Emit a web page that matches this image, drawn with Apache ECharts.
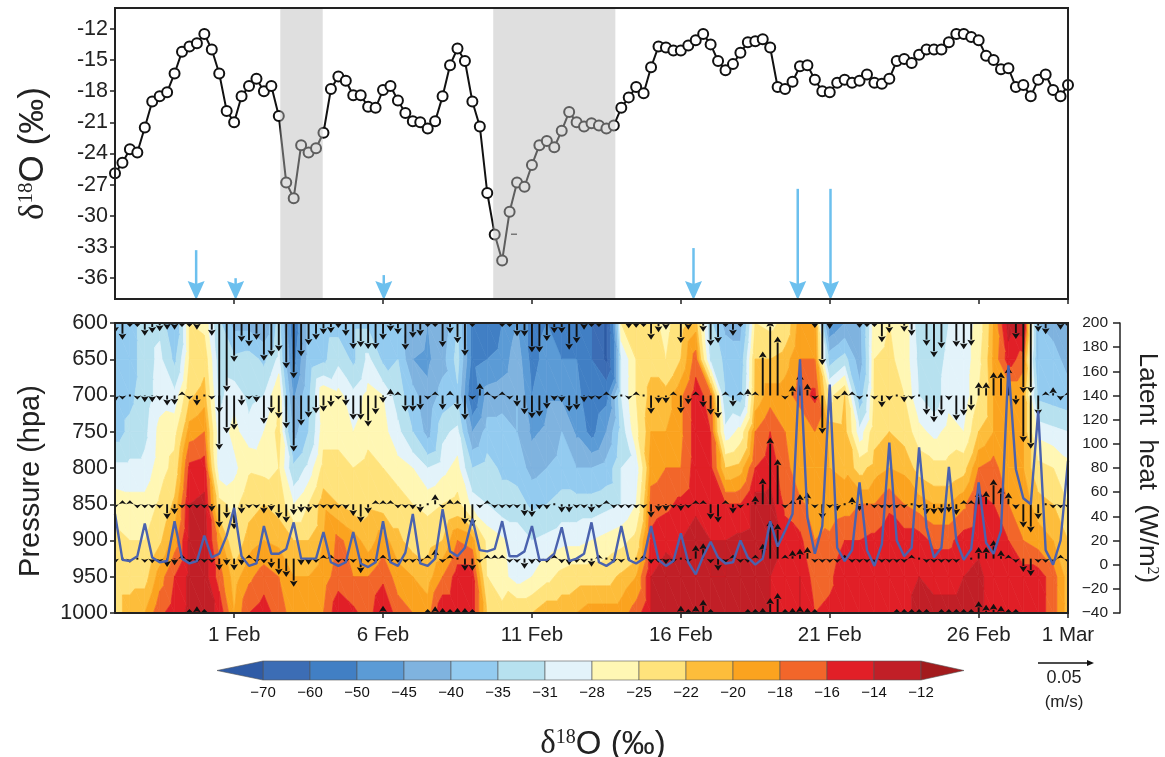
<!DOCTYPE html>
<html><head><meta charset="utf-8">
<style>html,body{margin:0;padding:0;background:#fff}#c{width:1165px;height:757px}</style>
<script src="https://cdn.jsdelivr.net/npm/echarts@6/dist/echarts.min.js"></script>
</head><body><div id="c"></div>
<script>
// time is counted in 6-hour steps from 28 Jan
const dateTickSteps=[16,36,56,76,96,116,128];
const dateTickLabels=['1 Feb','6 Feb','11 Feb','16 Feb','21 Feb','26 Feb','1 Mar'];
const isotopeTicks=[-36,-33,-30,-27,-24,-21,-18,-15,-12];
const pressureTicks=[600,650,700,750,800,850,900,950,1000];
const latentTicks=[-40,-20,0,20,40,60,80,100,120,140,160,180,200];

const surfaceIsotope=[-25.9,-24.9,-23.6,-23.9,-21.5,-19.0,-18.5,-18.1,-16.3,-14.2,-13.7,-13.4,-12.5,-14.0,-16.3,-19.9,-21.0,-18.5,-17.5,-16.8,-18.0,-17.5,-20.4,-26.8,-28.3,-23.2,-23.9,-23.5,-22.0,-17.8,-16.6,-17.0,-18.4,-18.4,-19.5,-19.6,-17.9,-17.5,-18.9,-20.1,-20.9,-21.0,-21.6,-20.9,-18.5,-15.5,-13.9,-15.1,-19.0,-21.4,-27.8,-31.8,-34.3,-29.6,-26.8,-27.2,-25.1,-23.2,-22.8,-23.4,-21.8,-20.0,-21.0,-21.4,-21.1,-21.3,-21.6,-21.3,-19.6,-18.6,-17.6,-18.2,-15.7,-13.7,-13.8,-14.1,-14.1,-13.6,-13.1,-12.5,-13.5,-15.1,-16.0,-15.4,-14.3,-13.3,-13.2,-13.0,-13.8,-17.6,-17.8,-17.1,-15.6,-15.5,-16.9,-18.0,-18.1,-17.2,-16.9,-17.2,-17.0,-16.4,-17.2,-17.3,-16.8,-15.1,-14.9,-15.3,-14.5,-14.0,-14.0,-14.0,-13.3,-12.5,-12.5,-12.8,-13.1,-14.6,-15.0,-15.9,-15.8,-17.6,-17.4,-18.5,-16.9,-16.4,-17.9,-18.5,-17.4];

const bandStarts=[22.2,50.8];
const bandEnds=[27.9,67.2];
const eventSteps=[10.9,16.2,36.1,77.7,91.7,96.1];
const eventTops=[-33.3,-36,-35.7,-33.1,-27.4,-27.4];

const latentHeat=[42,4,3,7,34,6,2,3,36,5,1,3,24,6,9,24,47,7,-1,1,32,9,9,13,35,5,5,5,27,2,-1,2,27,1,-2,2,36,2,-1,10,42,1,-1,5,46,11,7,14,38,12,11,13,36,7,7,11,32,4,4,9,31,3,5,9,35,2,-1,3,32,4,1,5,32,4,-1,3,26,2,-8,7,19,6,1,2,20,6,0,5,36,15,28,42,170,39,9,32,149,14,3,12,68,12,-1,17,101,20,7,14,97,31,6,14,81,20,4,13,68,18,9,28,165,79,55,50,127,12,0,20,86];

// delta-18-O of vapour, one value per 12 h at each pressure level
const z600=[-37,-37,-33,-32,-40,-25,-26,-34,-42,-42,-45,-33,-55,-38,-37,-37,-36,-36,-39,-37,-42,-45,-44,-35,-52,-55,-50,-45,-52,-50,-52,-55,-60,-72,-25,-23,-24,-26,-23,-21,-34,-42,-42,-25,-26,-24,-19,-19,-50,-45,-42,-26,-25,-26,-33,-34,-31,-30,-27,-20,-13,-12,-40,-42,-44];
const z650=[-37,-37,-33,-30,-36,-25,-23,-33,-34,-33,-36,-30,-52,-38,-36,-32,-36,-30,-36,-35,-45,-46,-42,-33,-52,-50,-48,-42,-52,-48,-50,-50,-60,-72,-31,-25,-23,-25,-22,-17,-32,-36,-38,-22,-22,-21,-18,-18,-37,-33,-43,-25,-24.5,-26,-32,-33,-30,-30,-26,-19.5,-15,-17,-40,-38,-42];
const z700=[-37,-36,-33,-29.5,-30,-22.5,-21,-32,-29,-32,-31,-25,-46,-36,-25,-27,-30,-27,-28,-33,-38,-44,-38,-36,-56,-43,-42,-40,-50,-46,-46,-48,-55,-52,-31,-25,-21,-21,-18.5,-15,-17,-35,-37,-21.5,-19,-19,-17,-15.5,-26,-22,-38,-24.5,-24,-25,-31,-33,-29,-30,-25,-20,-20,-20,-36,-37,-38];
const z750=[-37,-34,-32,-27,-26,-19,-18,-30,-27,-30,-28,-24,-42,-35,-26,-26,-28,-26,-27,-30,-35,-42,-32,-30,-45,-38,-38,-40,-46,-44,-40,-46,-52,-45,-33,-26,-20,-20,-18.5,-15,-16,-30,-27,-18,-16,-18,-20,-18,-20.5,-21,-30,-23,-22,-23,-27,-29,-27,-28,-22,-20,-20,-20,-29,-30,-31];
const z800=[-30,-30,-30,-26.5,-24,-15.5,-15,-30,-29,-25.5,-26,-25,-34,-30,-24,-24,-25,-24,-25,-27,-28,-31,-29,-27,-35,-33,-36,-37,-42,-40,-38,-40,-40,-38,-31,-30,-19,-18,-18,-15,-15.5,-22,-21,-16,-15,-17,-20,-20,-20,-20.5,-23,-21,-20,-20.5,-23,-24,-24,-23,-18,-17,-20,-20,-24,-25,-27];
const z850=[-26.5,-27,-27,-24.5,-21.5,-14,-13.5,-24,-26,-23,-22,-23,-28,-25,-20.5,-22,-23,-22.5,-23,-23,-25,-26,-25,-24,-29,-31,-33,-33,-36,-35,-33,-33,-33,-32,-31,-28,-17,-16.5,-15.5,-14.5,-15,-16,-16,-13,-13,-16.5,-17.5,-19,-19.5,-19,-18,-18,-16.5,-18,-19,-20,-20,-18.5,-15,-16,-18,-19,-21,-22,-25];
const z900=[-24,-25,-25,-22.5,-19,-13.5,-13,-19,-24,-21,-20,-20.5,-22,-22,-20,-17.5,-19,-21,-19,-21.5,-23,-23,-22,-18,-19,-26,-27.5,-29,-31,-30,-29,-29,-28,-27,-26,-24,-15.5,-14.5,-14,-13,-14,-14,-13.5,-13,-13,-15,-15.5,-18,-17.5,-16,-16,-15.5,-14.5,-15,-15,-16.5,-16.5,-15,-14.5,-15.5,-16,-18,-19,-20,-22];
const z950=[-23,-23,-23,-19,-16,-13.5,-13,-17,-21,-18.5,-17,-18,-20,-20,-19,-17,-18,-18,-16.5,-19,-20,-21,-18,-15,-15,-25,-27,-29.5,-28,-26,-24,-23,-23,-23,-21.5,-20,-14,-13,-13.5,-13,-14,-14,-13.5,-13.5,-14,-15,-14,-17,-16.5,-14.5,-14.5,-14.5,-14.5,-14.5,-14,-14.5,-14.5,-14,-13.5,-15,-15.5,-15,-15,-17,-21];
const z1000=[-23,-21,-20,-16.5,-15,-13.5,-13,-14.5,-20,-16,-15,-17,-19,-19,-18,-14.5,-15.5,-17,-14,-17,-18,-19,-14,-14,-15,-22,-24,-22,-22,-20,-20,-20,-19,-19,-19,-17,-14,-13,-13,-13,-13,-13.5,-13.5,-13,-14,-15,-14,-16,-15.5,-14.5,-14.5,-14.5,-14.5,-14.5,-13.5,-13.5,-13.5,-13.5,-13.5,-15,-16,-15,-15,-17,-21];

// vertical wind, 6-hourly, unit 0.3 mm/s, positive downward
const wind600=[30,50,5,5,38,30,25,20,20,5,3,20,0,38,270,206,116,56,70,50,113,100,85,136,166,100,66,50,34,30,15,38,78,72,78,78,50,25,34,80,44,38,4,2,72,31,60,98,5,0,0,0,3,5,40,40,88,88,54,30,30,80,60,20,5,3,0,0,0,16,14,10,50,28,20,0,60,20,0,26,68,60,5,38,3,0,0,0,0,0,0,0,0,0,15,126,18,0,0,0,14,5,8,58,30,0,26,38,0,68,103,76,0,71,79,68,0,0,0,0,0,48,210,210,26,34,0,20,5];
const wind700=[20,5,0,12,20,20,15,30,28,-5,5,30,0,5,163,113,103,30,5,20,85,53,68,98,168,90,66,53,48,34,12,30,73,73,93,56,22,-20,-6,48,48,43,5,-12,43,-14,43,73,8,-37,-6,4,-5,5,33,56,68,63,40,16,20,48,43,20,5,5,-8,5,0,8,-5,0,55,23,23,-5,53,26,-8,35,58,68,-10,33,-5,-20,-5,-132,-225,-177,5,-30,-65,-35,8,115,0,3,-15,-10,8,0,8,35,15,0,20,10,0,58,80,60,14,75,60,45,-40,-40,-70,-70,-85,28,140,160,60,-5,-25,15,-5];
const wind850=[5,-6,-6,10,5,5,13,45,30,5,5,4,8,22,70,42,75,28,5,8,28,20,42,55,32,25,25,10,6,15,5,15,35,55,28,-6,-5,-5,5,5,15,25,0,-30,5,-15,-7,60,65,8,-8,3,3,5,5,35,38,15,15,0,25,25,5,5,25,5,-8,12,5,8,5,5,40,22,20,5,20,8,-12,-12,45,55,-5,28,8,0,-25,-78,-200,-135,3,-15,-30,-35,5,45,10,20,0,-22,20,0,10,12,5,8,12,0,10,30,30,28,25,32,-5,-5,-40,-40,-75,-50,-35,15,70,85,45,0,8,5,5];
const wind925=[15,0,10,0,8,14,10,25,20,-5,10,5,5,8,35,20,35,20,-5,5,14,28,48,55,84,20,18,10,-5,-5,5,5,10,44,12,5,-10,5,5,5,5,5,-6,-28,5,-10,0,36,36,12,-5,-5,-5,5,12,30,16,12,5,-5,14,20,5,5,24,-5,0,3,10,0,0,-3,15,5,16,5,0,5,-40,-46,14,36,5,-5,5,5,-10,-45,-115,-105,-5,-25,-30,-35,5,5,8,12,-8,4,10,4,12,8,5,5,12,-6,0,8,10,5,5,5,0,0,-35,-35,-55,-25,-6,8,40,52,10,5,3,-3,3];
const wind1000=[3,3,3,3,3,3,3,3,3,3,-5,-20,-10,3,0,3,5,3,0,0,0,0,0,0,0,0,3,3,3,3,0,0,3,5,3,0,-22,0,0,3,5,3,-5,-20,-15,-10,-15,-15,-3,0,0,3,3,3,3,3,5,0,0,3,5,3,0,3,3,3,5,3,3,0,3,3,3,3,3,3,-22,-5,-22,-40,-10,3,0,3,3,-5,-5,-15,-45,-60,-10,-15,-20,-15,-5,2,2,2,0,0,0,2,2,2,2,-3,-3,-5,-12,-3,0,-3,-5,-8,-8,-12,-35,-25,-28,-22,-10,-3,2,0,0,0,2,3,2];

const contourLevels=[-70,-60,-50,-45,-40,-35,-31,-28,-25,-22,-20,-18,-16,-14,-12];
const contourColors=['#2f5ba6','#3c6db5','#417fc4','#5b9bd6','#7fb3df','#93cbf0','#b7e1ef','#e3f3fa','#fff7b4','#ffe37c','#fdbd3b','#fba31f','#f2662a','#e11f27','#c11f27','#a31b1d'];

const fieldRows=[z600,z650,z700,z750,z800,z850,z900,z950,z1000];
const windLevels=[[600,wind600],[700,wind700],[850,wind850],[925,wind925],[1000,wind1000]];
const toPixels=1/3;
const FONT='"Liberation Sans",Arial,sans-serif';
const SERIF='"Liberation Serif",serif';

function clip(poly,t,keepAbove){
  const out=[];
  for(let i=0;i<poly.length;i++){
    const a=poly[i],b=poly[(i+1)%poly.length];
    const ia=keepAbove?a[2]>=t:a[2]<=t, ib=keepAbove?b[2]>=t:b[2]<=t;
    if(ia)out.push(a);
    if(ia!==ib){const f=(t-a[2])/(b[2]-a[2]);out.push([a[0]+f*(b[0]-a[0]),a[1]+f*(b[1]-a[1]),t]);}
  }
  return out;
}
function renderCell(params,api){
  const c=api.value(0),r=api.value(1);
  const v=(cc,rr)=>{const p=api.coord([cc*2,pressureTicks[rr]]);return [p[0],p[1],fieldRows[rr][cc]];};
  const a=v(c,r),b=v(c+1,r),d=v(c+1,r+1),e=v(c,r+1);
  const children=[];
  [[a,b,d],[a,d,e]].forEach(tri=>{
    for(let k=0;k<contourColors.length;k++){
      let p=tri;
      if(k>0)p=clip(p,contourLevels[k-1],true);
      if(p.length&&k<contourLevels.length)p=clip(p,contourLevels[k],false);
      if(p.length>=3)children.push({type:'polygon',shape:{points:p.map(q=>[q[0],q[1]])},style:{fill:contourColors[k],stroke:contourColors[k],lineWidth:0.7}});
    }
  });
  return {type:'group',children};
}
function renderWind(params,api){
  const base=api.coord([api.value(0),api.value(1)]);
  const w=api.value(2)*toPixels, col='#111';
  if(api.value(2)===0) return {type:'rect',shape:{x:base[0]-1,y:base[1]-1,width:2,height:2},style:{fill:col}};
  const s=w>0?1:-1, L=Math.max(Math.abs(w),4), hl=Math.min(L,6), hw=3.9;
  const tip=base[1]+s*L, neck=tip-s*hl, children=[];
  if(L>hl+0.5)children.push({type:'line',shape:{x1:base[0],y1:base[1],x2:base[0],y2:neck},style:{stroke:col,lineWidth:1.9}});
  children.push({type:'polygon',shape:{points:[[base[0],tip],[base[0]-hw,neck],[base[0],neck+s*1],[base[0]+hw,neck]]},style:{fill:col}});
  return {type:'group',children};
}
function renderEvent(params,api){
  const top=api.coord([api.value(0),api.value(1)]),bot=api.coord([api.value(0),-38]),col='#6cc0ee';
  return {type:'group',children:[
    {type:'line',shape:{x1:top[0],y1:top[1],x2:top[0],y2:bot[1]-10},style:{stroke:col,lineWidth:2.5}},
    {type:'polygon',shape:{points:[[top[0],bot[1]+1],[top[0]-8.5,bot[1]-18],[top[0],bot[1]-15],[top[0]+8.5,bot[1]-18]]},style:{fill:col}}
  ]};
}
function renderBand(params,api){
  const a=api.coord([api.value(0),-10]),b=api.coord([api.value(1),-38]);
  return {type:'rect',shape:{x:a[0],y:a[1],width:b[0]-a[0],height:b[1]-a[1]},style:{fill:'rgba(185,185,185,0.46)'}};
}

const cells=[];
for(let c=0;c<z600.length-1;c++)for(let r=0;r<fieldRows.length-1;r++)cells.push([c,r]);
const windData=[];
windLevels.forEach(([p,arr])=>arr.forEach((w,i)=>windData.push([i,p,w])));

const steps=surfaceIsotope.map((_,i)=>i);
const axisCol='#222';
function timeAxis(gridIndex,labels){
  return {type:'value',gridIndex,min:0,max:128,position:'bottom',splitLine:{show:false},z:10,
    axisLine:{show:true,onZero:false,lineStyle:{color:axisCol,width:2}},
    axisTick:{show:true,customValues:dateTickSteps,length:5,lineStyle:{color:axisCol,width:1.5}},
    axisLabel:{show:labels,customValues:dateTickSteps,margin:12,fontFamily:FONT,fontSize:20.5,color:'#222',
      formatter:v=>dateTickLabels[dateTickSteps.indexOf(v)]||''}};
}
const nameRich=(size,sup)=>({n:{fontFamily:FONT,fontSize:size,color:'#222',fontWeight:'normal'},d:{fontFamily:SERIF,fontSize:size,color:'#222',fontWeight:'normal'},s:{fontFamily:SERIF,fontSize:sup,color:'#222',verticalAlign:'top',fontWeight:'normal'}});

// colour bar geometry from the contour levels
const cbLeft=263,cbStep=47,cbTop=661,cbH=19;
const bar=[];
contourLevels.forEach((lv,i)=>{
  if(i<contourLevels.length-1)bar.push({type:'rect',z:100,shape:{x:cbLeft+i*cbStep,y:cbTop,width:cbStep,height:cbH},style:{fill:contourColors[i+1],stroke:'#555',lineWidth:0.6}});
  bar.push({type:'text',z:100,style:{x:cbLeft+i*cbStep,y:cbTop+32,text:'\u2212'+Math.abs(lv),fontFamily:FONT,fontSize:15,fill:'#111',align:'center',verticalAlign:'middle'}});
});
bar.push({type:'polygon',z:100,shape:{points:[[cbLeft,cbTop],[cbLeft,cbTop+cbH],[217,cbTop+cbH/2]]},style:{fill:contourColors[0],stroke:'#555',lineWidth:0.6}});
const cbRight=cbLeft+14*cbStep;
bar.push({type:'polygon',z:100,shape:{points:[[cbRight,cbTop],[cbRight,cbTop+cbH],[964,cbTop+cbH/2]]},style:{fill:contourColors[15],stroke:'#555',lineWidth:0.6}});

const chart=echarts.init(document.getElementById('c'),null,{renderer:'canvas'});
chart.setOption({
  animation:false,backgroundColor:'#fff',
  title:{show:true,text:'{d|\u03b4}{s|18}{n|O (\u2030)}',left:598,top:723,textAlign:'center',
    textStyle:{fontWeight:'normal',rich:nameRich(33,20)}},
  grid:[{left:115,top:8,width:953,height:291,outerBoundsMode:'none'},{left:115,top:323,width:953,height:290,outerBoundsMode:'none'}],
  xAxis:[timeAxis(0,false),timeAxis(1,true)],
  yAxis:[
    {type:'value',gridIndex:0,min:-38,max:-10,name:'{d|\u03b4}{s|18}{n|O (\u2030)}',nameLocation:'middle',nameGap:64,
      nameTextStyle:{rich:nameRich(35,21)},splitLine:{show:false},z:10,
      axisLine:{show:true,onZero:false,lineStyle:{color:axisCol,width:2}},
      axisTick:{show:true,customValues:isotopeTicks,length:5,lineStyle:{color:axisCol,width:1.5}},
      axisLabel:{customValues:isotopeTicks,margin:7,fontFamily:FONT,fontSize:21.5,color:'#222',formatter:v=>String(v)}},
    {type:'value',gridIndex:1,inverse:true,min:600,max:1000,name:'Pressure (hpa)',nameLocation:'middle',nameGap:70,
      nameTextStyle:{fontFamily:FONT,fontSize:29,color:'#222',padding:[0,26,0,0]},splitLine:{show:false},z:10,
      axisLine:{show:true,onZero:false,lineStyle:{color:axisCol,width:2}},
      axisTick:{show:true,customValues:pressureTicks,length:5,lineStyle:{color:axisCol,width:1.5}},
      axisLabel:{customValues:pressureTicks,margin:7,fontFamily:FONT,fontSize:21.5,color:'#222',formatter:v=>String(v)}},
    {type:'value',gridIndex:1,position:'right',offset:52,min:-40,max:200,
      name:'{n|Latent  heat  (W/m}{s|2}{n|)}',nameLocation:'middle',nameGap:14,nameRotate:-90,
      nameTextStyle:{rich:nameRich(26,16)},splitLine:{show:false},z:10,
      axisLine:{show:true,onZero:false,lineStyle:{color:axisCol,width:1.5}},
      axisTick:{show:true,inside:true,customValues:latentTicks,length:7,lineStyle:{color:axisCol,width:1.5}},
      axisLabel:{inside:true,customValues:latentTicks,margin:12,fontFamily:FONT,fontSize:15.5,color:'#222',
        formatter:v=>(v<0?'\u2212'+(-v):String(v))}}
  ],
  series:[
    {type:'line',name:'surface',xAxisIndex:0,yAxisIndex:0,z:3,clip:false,
      data:steps.map(i=>[i,surfaceIsotope[i]]),symbol:'circle',symbolSize:10,showSymbol:true,showAllSymbol:true,
      lineStyle:{color:'#111',width:2},itemStyle:{color:'#fff',borderColor:'#111',borderWidth:2}},
    {type:'custom',name:'bands',xAxisIndex:0,yAxisIndex:0,z:4,silent:true,
      data:bandStarts.map((s,i)=>[s,bandEnds[i]]),encode:{x:[0,1]},renderItem:renderBand},
    {type:'custom',name:'events',xAxisIndex:0,yAxisIndex:0,z:5,silent:true,clip:false,
      data:eventSteps.map((s,i)=>[s,eventTops[i]]),encode:{x:0,y:1},renderItem:renderEvent},
    {type:'custom',name:'field',xAxisIndex:1,yAxisIndex:1,z:1,silent:true,clip:true,
      data:cells,renderItem:renderCell},
    {type:'custom',name:'wind',xAxisIndex:1,yAxisIndex:1,z:3,silent:true,clip:true,
      data:windData,encode:{x:0,y:1},renderItem:renderWind},
    {type:'line',name:'latent',xAxisIndex:1,yAxisIndex:2,z:5,clip:false,
      data:steps.map(i=>[i,latentHeat[i]]),symbol:'none',lineStyle:{color:'#4a62ae',width:2.4}}
  ],
  graphic:{elements:[
    {type:'rect',z:100,silent:true,shape:{x:115,y:8,width:953,height:291},style:{fill:'none',stroke:axisCol,lineWidth:2}},
    {type:'rect',z:100,silent:true,shape:{x:115,y:323,width:953,height:290},style:{fill:'none',stroke:axisCol,lineWidth:2}},
    {type:'rect',z:100,silent:true,shape:{x:511,y:233.5,width:6,height:1.5},style:{fill:'#777'}},
    {type:'line',z:100,shape:{x1:1038,y1:663,x2:1088,y2:663},style:{stroke:'#111',lineWidth:1.6}},
    {type:'polygon',z:100,shape:{points:[[1094,663],[1087,660],[1087,666]]},style:{fill:'#111'}},
    {type:'text',z:100,style:{x:1064,y:678,text:'0.05',fontFamily:FONT,fontSize:18,fill:'#222',align:'center',verticalAlign:'middle'}},
    {type:'text',z:100,style:{x:1064,y:702,text:'(m/s)',fontFamily:FONT,fontSize:17,fill:'#222',align:'center',verticalAlign:'middle'}},
    ...bar
  ]}
});
</script></body></html>
